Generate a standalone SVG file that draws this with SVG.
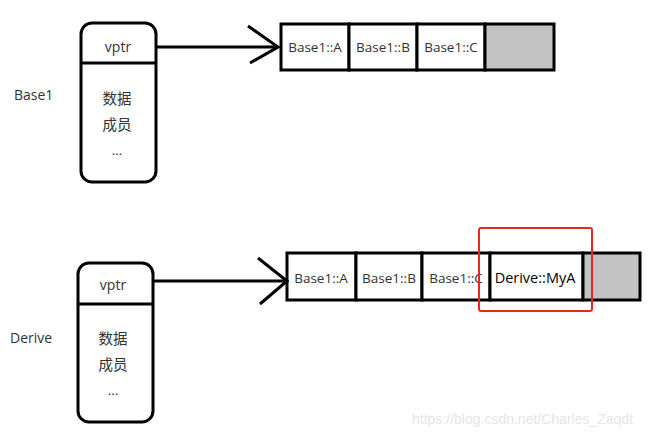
<svg xmlns="http://www.w3.org/2000/svg" width="672" height="437" viewBox="0 0 672 437">
<style>
.obj{fill:#fff;stroke:#000;stroke-width:3}
.ln{stroke:#000;stroke-width:3;fill:none}
.cell{fill:#fff;stroke:#000;stroke-width:3}
.gray{fill:#c3c3c3;stroke:#000;stroke-width:3}
text{font-family:"Open Sans","Noto Sans CJK SC",sans-serif;fill:#333;text-anchor:middle}
.t{font-size:13.5px}
.cjk{font-size:14.5px}
.lbl{font-size:14px;text-anchor:start}
.wm{font-family:"Liberation Sans",sans-serif;font-size:14px;fill:#e6e6e6;text-anchor:start}
</style>
<rect width="672" height="437" fill="#fff"/>
<g id="label-base1"><text class="lbl" x="14" y="100">Base1</text></g>
<g id="label-derive"><text class="lbl" x="10" y="343">Derive</text></g>
<g id="obj-base1">
<rect class="obj" x="81" y="23" width="75" height="159" rx="11"/>
<line class="ln" x1="81" y1="63" x2="156" y2="63"/>
<text x="118" y="52" style="font-size:14px">vptr</text>
<text class="cjk" x="117" y="104">数据</text>
<text class="cjk" x="117" y="130">成员</text>
<text class="t" x="117" y="155">...</text>
</g>
<g id="obj-derive">
<rect class="obj" x="78" y="263" width="75" height="159" rx="11"/>
<line class="ln" x1="78" y1="304" x2="153" y2="304"/>
<text x="113" y="290" style="font-size:14px">vptr</text>
<text class="cjk" x="113" y="344">数据</text>
<text class="cjk" x="113" y="370">成员</text>
<text class="t" x="113" y="395">...</text>
</g>
<g id="vtable-base1">
<rect class="cell" x="281" y="24" width="68" height="46"/>
<rect class="cell" x="349" y="24" width="68" height="46"/>
<rect class="cell" x="417" y="24" width="68" height="46"/>
<rect class="gray" x="485" y="24" width="69" height="46"/>
<text class="t" x="315" y="52">Base1::A</text>
<text class="t" x="383" y="52">Base1::B</text>
<text class="t" x="451" y="52">Base1::C</text>
</g>
<g id="vtable-derive">
<rect class="cell" x="287" y="253" width="69" height="47"/>
<rect class="cell" x="356" y="253" width="66" height="47"/>
<rect class="cell" x="422" y="253" width="68" height="47"/>
<rect class="cell" x="490" y="253" width="93" height="47"/>
<rect class="gray" x="583" y="253" width="57" height="47"/>
<text class="t" x="321" y="283">Base1::A</text>
<text class="t" x="389" y="283">Base1::B</text>
<text class="t" x="456" y="283">Base1::C</text>
<text x="535" y="283" style="fill:#000;font-size:14.5px">Derive::MyA</text>
</g>
<g id="highlight">
<rect x="479" y="228" width="113" height="83" rx="2" fill="none" stroke="#e8281e" stroke-width="2"/>
</g>
<g id="connectors">
<line class="ln" x1="156" y1="47" x2="278" y2="47"/>
<polyline class="ln" points="248,26 278,47 250,63"/>
<line class="ln" x1="153" y1="281" x2="286" y2="281"/>
<polyline class="ln" points="258,258 287,281 260,304"/>
</g>
<text class="wm" x="412" y="424">https://blog.csdn.net/Charles_Zaqdt</text>
</svg>
